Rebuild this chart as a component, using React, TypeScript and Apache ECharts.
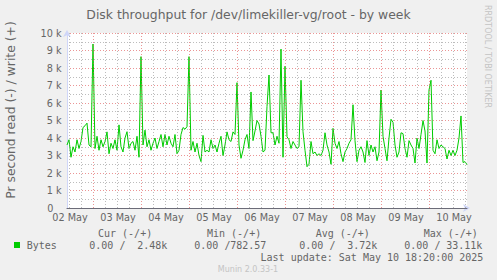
import React, { useEffect, useRef } from "react";
import * as echarts from "echarts";

// ---- data ----
const DAY_LABELS = ["02 May", "03 May", "04 May", "05 May", "06 May", "07 May", "08 May", "09 May", "10 May"];

// write throughput in k bytes/s, one sample per hour from the graph start
const WRITE_K = [
  3.6, 3.9, 2.9, 3.5, 3.2, 3.9, 3.4, 3.8, 4.6, 4.7,
  4.85, 3.6, 3.5, 9.37, 3.4, 4.1, 3.3, 3.9, 3.5, 3.8,
  4.35, 3.1, 3.7, 3.4, 3.9, 3.3, 4.75, 3.5, 3.2, 4.0,
  4.36, 3.4, 3.7, 3.8, 3.3, 4.1, 2.9, 8.65, 3.6, 4.45,
  3.5, 3.9, 3.3, 3.7, 4.0, 3.4, 3.8, 4.2, 3.5, 4.2,
  3.6, 4.1, 3.7, 3.5, 4.2, 3.1, 3.3, 4.2, 4.6, 4.5,
  4.65, 8.65, 3.3, 3.8, 3.2, 3.7, 3.0, 2.65, 4.15, 3.2,
  3.3, 3.2, 3.9, 3.4, 3.6, 3.2, 3.7, 4.1, 3.0, 3.6,
  4.35, 3.9, 3.8, 4.35, 4.2, 7.16, 3.6, 2.84, 3.3, 3.9,
  4.2, 3.4, 6.63, 3.85, 4.4, 5.0, 4.8, 4.1, 3.2, 3.3,
  5.8, 7.6, 4.3, 4.3, 3.6, 4.1, 3.7, 9.08, 2.9, 8.1,
  4.07, 3.9, 3.4, 3.8, 3.6, 3.4, 3.5, 7.3, 4.36, 3.3,
  2.36, 2.5, 3.8, 3.1, 3.2, 3.0, 3.1, 3.0, 3.3, 4.3,
  3.6, 3.2, 2.5, 4.55, 3.7, 3.4, 3.8, 3.1, 2.65, 3.2,
  3.4, 3.7, 3.9, 5.9, 3.85, 2.65, 3.3, 3.5, 3.2, 2.6,
  3.85, 3.0, 3.6, 3.2, 3.5, 2.7, 3.2, 6.74, 4.1, 3.4,
  2.7, 4.0, 5.07, 4.9, 3.6, 2.9, 3.2, 4.3, 4.25, 3.4,
  2.9, 3.85, 3.6, 3.4, 2.57, 4.0, 3.4, 4.2, 5.0, 4.4,
  2.57, 6.74, 7.3, 3.3, 3.1, 3.9, 3.4, 3.6, 3.5, 3.4,
  2.8, 3.3, 3.0, 3.3, 3.0, 3.3, 4.0, 5.26, 2.6, 2.65,
  2.48,
];

const LEGEND_HEADERS = ["Cur (-/+)", "Min (-/+)", "Avg (-/+)", "Max (-/+)"];
const LEGEND_READ = ["0.00", "0.00", "0.00", "0.00"];
const LEGEND_WRITE = ["2.48k", "782.57", "3.72k", "33.11k"];
const SERIES_NAME = "Bytes";
const TITLE = "Disk throughput for /dev/limekiller-vg/root - by week";
const Y_NAME = "Pr second read (-) / write (+)";
const LAST_UPDATE = "Last update: Sat May 10 18:20:00 2025";
const FOOTER = "Munin 2.0.33-1";
const WATERMARK = "RRDTOOL / TOBI OETIKER";

// time layout (hours from the left edge of the graph)
const TOTAL_HOURS = 200;
const FIRST_LABEL_HOUR = 1.5;
const FIRST_MINOR_HOUR = 1;
const FIRST_MAJOR_HOUR = 13;

export default function App() {
  const ref = useRef<HTMLDivElement>(null);

  useEffect(() => {
    const chart = echarts.init(ref.current!, null, { renderer: "svg" });
    const SANS = "'DejaVu Sans', sans-serif";
    const MONO = "'DejaVu Sans Mono', monospace";
    const FONT_COLOR = "#666666";
    const AXIS_COLOR = "#CFD6F8";
    const GRID_COLOR = "rgba(143,143,143,0.6)";
    const MGRID_COLOR = "rgba(222,79,79,0.6)";

    const data = WRITE_K.map((v, i) => [i, v * 1000]);

    const labelHours = DAY_LABELS.map((_, i) => FIRST_LABEL_HOUR + 24 * i);
    const gridLines: any[] = [];
    for (let h = FIRST_MINOR_HOUR; h < TOTAL_HOURS; h += 6) {
      const major = (h - FIRST_MAJOR_HOUR) % 24 === 0;
      gridLines.push({
        xAxis: h,
        lineStyle: { color: major ? MGRID_COLOR : GRID_COLOR, type: [1, 2], width: 1 },
      });
    }

    const legendX = [98, 207, 315.7, 423.7];
    const valueX = [89.3, 194.3, 299.3, 404.3];
    const valueRight = [167.3, 266.3, 377.3, 482.3];

    const graphics: any[] = [
      {
        type: "text",
        x: 248.5,
        y: 14,
        style: { text: TITLE, fill: FONT_COLOR, fontFamily: SANS, fontSize: 12.4, textAlign: "center", textVerticalAlign: "middle" },
      },
      {
        type: "text",
        x: 10,
        y: 110,
        rotation: Math.PI / 2,
        style: { text: Y_NAME, fill: FONT_COLOR, fontFamily: SANS, fontSize: 12.4, textAlign: "center", textVerticalAlign: "middle" },
      },
      {
        type: "text",
        x: 487,
        y: 56.5,
        rotation: -Math.PI / 2,
        style: { text: WATERMARK, fill: "#c4c4c4", fontFamily: SANS, fontSize: 8, textAlign: "center", textVerticalAlign: "middle" },
      },
      {
        type: "rect",
        shape: { x: 14, y: 242, width: 6, height: 6 },
        style: { fill: "#00cc00" },
      },
      {
        type: "text",
        x: 26.7,
        y: 245.5,
        style: { text: SERIES_NAME, fill: FONT_COLOR, fontFamily: MONO, fontSize: 10, textAlign: "left", textVerticalAlign: "middle" },
      },
      {
        type: "text",
        x: 483.3,
        y: 257.5,
        style: { text: LAST_UPDATE, fill: FONT_COLOR, fontFamily: MONO, fontSize: 10, textAlign: "right", textVerticalAlign: "middle" },
      },
      {
        type: "text",
        x: 248,
        y: 269,
        style: { text: FOOTER, fill: "#c4c4c4", fontFamily: SANS, fontSize: 8, textAlign: "center", textVerticalAlign: "middle" },
      },
    ];
    LEGEND_HEADERS.forEach((t, i) => {
      graphics.push({
        type: "text",
        x: legendX[i],
        y: 233,
        style: { text: t, fill: FONT_COLOR, fontFamily: MONO, fontSize: 10, textAlign: "left", textVerticalAlign: "middle" },
      });
      graphics.push({
        type: "text",
        x: valueX[i],
        y: 245.5,
        style: { text: LEGEND_READ[i] + " /", fill: FONT_COLOR, fontFamily: MONO, fontSize: 10, textAlign: "left", textVerticalAlign: "middle" },
      });
      graphics.push({
        type: "text",
        x: valueRight[i],
        y: 245.5,
        style: { text: LEGEND_WRITE[i], fill: FONT_COLOR, fontFamily: MONO, fontSize: 10, textAlign: "right", textVerticalAlign: "middle" },
      });
    });

    chart.setOption({
      animation: false,
      backgroundColor: "#F0F0F0",
      grid: { left: 67, top: 33, width: 400, height: 175, show: true, backgroundColor: "#ffffff", borderWidth: 0 },
      xAxis: [
        {
          type: "value",
          min: 0,
          max: TOTAL_HOURS,
          z: 4,
          axisLine: { show: true, lineStyle: { color: "#6c6c78", width: 1 } },
          axisTick: { show: false },
          splitLine: { show: false },
          axisLabel: {
            customValues: labelHours,
            formatter: (v: number) => DAY_LABELS[Math.round((v - FIRST_LABEL_HOUR) / 24)] ?? "",
            color: FONT_COLOR,
            fontFamily: SANS,
            fontSize: 9.7,
            margin: 4,
          },
        },
        {
          type: "value",
          min: 0,
          max: TOTAL_HOURS,
          position: "bottom",
          z: 2,
          axisLine: { show: true, symbol: ["none", "arrow"], symbolSize: [6, 7], symbolOffset: [0, 3], lineStyle: { color: AXIS_COLOR, width: 1 } },
          axisTick: { show: false },
          axisLabel: { show: false },
          splitLine: { show: false },
        },
      ],
      yAxis: {
        type: "value",
        min: 0,
        max: 10000,
        interval: 1000,
        z: 2,
        axisLine: { show: true, symbol: ["none", "arrow"], symbolSize: [6, 7], symbolOffset: [0, 3], lineStyle: { color: AXIS_COLOR, width: 1 } },
        axisTick: { show: false },
        axisLabel: {
          color: FONT_COLOR,
          fontFamily: SANS,
          fontSize: 9.7,
          margin: 5.5,
          formatter: (v: number) => (v === 0 ? "{z|0}" : `${v / 1000} k`),
          rich: { z: { color: FONT_COLOR, fontFamily: SANS, fontSize: 9.7, padding: [0, 8, 0, 0] } },
        },
        splitLine: { show: true, lineStyle: { color: MGRID_COLOR, type: [1, 2], width: 1 } },
        minorTick: { show: false, splitNumber: 2 },
        minorSplitLine: { show: true, lineStyle: { color: GRID_COLOR, type: [1, 2], width: 1 } },
      },
      series: [
        {
          type: "line",
          data: [],
          z: 1,
          silent: true,
          markLine: {
            silent: true,
            symbol: ["none", "none"],
            label: { show: false },
            emphasis: { disabled: true },
            data: gridLines,
          },
        },
        {
          type: "line",
          name: SERIES_NAME,
          data,
          z: 3,
          showSymbol: false,
          symbol: "none",
          lineStyle: { color: "#00cc00", width: 1 },
          silent: true,
        },
      ],
      graphic: graphics,
    });

    return () => chart.dispose();
  }, []);

  return <div ref={ref} style={{ position: "fixed", left: 0, top: 0, width: 497, height: 280 }} />;
}
